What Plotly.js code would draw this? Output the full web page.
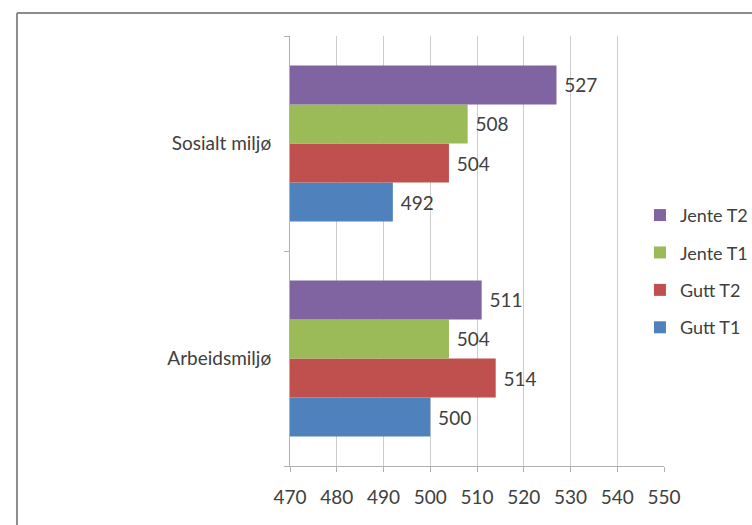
<!DOCTYPE html>
<html>
<head>
<meta charset="utf-8">
<script src="https://cdn.plot.ly/plotly-3.0.1.min.js"></script>
<style>
  html, body { margin: 0; padding: 0; background: #ffffff; }
  #chart { width: 752px; height: 525px; }
</style>
</head>
<body>
<div id="chart"></div>
<script>
// Categories, top to bottom
const categories = ['Sosialt miljø', 'Arbeidsmiljø'];

// Series values per category (same order as categories)
const gutT1 = [492, 500];
const gutT2 = [504, 514];
const jenteT1 = [508, 504];
const jenteT2 = [527, 511];

const seriesNames = ['Gutt T1', 'Gutt T2', 'Jente T1', 'Jente T2'];
const seriesValues = [gutT1, gutT2, jenteT1, jenteT2];
const seriesColors = ['#4F81BD', '#C0504D', '#9BBB59', '#8064A2'];
// Legend lists the series top-down in the same order as the bars
const legendRanks = [4, 3, 2, 1];

const xTicks = [470, 480, 490, 500, 510, 520, 530, 540, 550];

const fontFamily = 'Lato, "Open Sans", sans-serif';
const textColor = '#404040';

const traces = seriesNames.map((name, i) => ({
  type: 'bar',
  orientation: 'h',
  name: name,
  legendgroup: name,
  legendrank: legendRanks[i],
  y: categories,
  x: seriesValues[i],
  marker: { color: seriesColors[i] },
  text: seriesValues[i].map(v => String(v)),
  textposition: 'outside',
  texttemplate: ' %{text}',
  textfont: { family: fontFamily, size: 19, color: textColor },
  cliponaxis: false,
  hoverinfo: 'x+name'
}));

const layout = {
  width: 752,
  height: 525,
  margin: { l: 290, r: 88, t: 36, b: 59, autoexpand: false },
  paper_bgcolor: '#ffffff',
  plot_bgcolor: '#ffffff',
  barmode: 'group',
  bargap: 0.274,
  bargroupgap: 0,
  font: { family: fontFamily, size: 19, color: textColor },
  xaxis: {
    range: [470, 550],
    tickvals: xTicks,
    ticktext: xTicks.map(String),
    showgrid: true,
    gridcolor: '#cccccc',
    gridwidth: 1,
    zeroline: false,
    showline: true,
    linecolor: '#b0b0b0',
    linewidth: 1,
    ticks: 'outside',
    ticklen: 5,
    tickcolor: '#b0b0b0',
    ticklabelstandoff: 9,
    tickfont: { family: fontFamily, size: 19, color: textColor },
    automargin: false,
    fixedrange: true
  },
  yaxis: {
    type: 'category',
    categoryorder: 'array',
    categoryarray: categories.slice().reverse(),
    showgrid: false,
    zeroline: false,
    showline: true,
    linecolor: '#b0b0b0',
    linewidth: 1,
    ticks: 'outside',
    tickson: 'boundaries',
    ticklen: 5,
    tickcolor: '#b0b0b0',
    ticklabelstandoff: 14,
    tickfont: { family: fontFamily, size: 19, color: textColor },
    automargin: false,
    fixedrange: true
  },
  legend: {
    xref: 'container',
    yref: 'container',
    x: 0.851,
    xanchor: 'left',
    y: 0.625,
    yanchor: 'top',
    traceorder: 'grouped',
    tracegroupgap: 11,
    itemwidth: 30,
    font: { family: fontFamily, size: 18, color: textColor },
    bgcolor: 'rgba(0,0,0,0)'
  },
  shapes: [
    // chart frame, left and top edges
    { type: 'line', xref: 'paper', yref: 'paper',
      x0: -0.73, x1: -0.73, y0: -0.14, y1: 1.0535,
      line: { color: '#8c8c8c', width: 2 } },
    { type: 'line', xref: 'paper', yref: 'paper',
      x0: -0.73, x1: 1.24, y0: 1.0535, y1: 1.0535,
      line: { color: '#8c8c8c', width: 2 } }
  ],
  showlegend: true
};

Plotly.newPlot('chart', traces, layout, { displayModeBar: false, staticPlot: true });
</script>
</body>
</html>
